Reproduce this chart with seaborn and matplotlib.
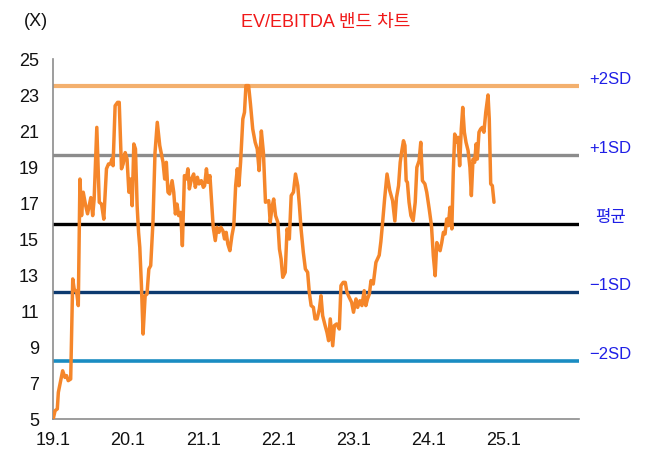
"""EV/EBITDA band chart."""

import matplotlib

matplotlib.use("Agg")

import matplotlib.pyplot as plt
import pandas as pd
import seaborn as sns

DATES = [
    "2019-01-02", "2019-01-11", "2019-01-22", "2019-01-27", "2019-02-09", "2019-02-17",
    "2019-02-28", "2019-03-08", "2019-03-16", "2019-03-28", "2019-04-07", "2019-04-14",
    "2019-04-26", "2019-05-04", "2019-05-12", "2019-05-20", "2019-05-28", "2019-06-09",
    "2019-06-18", "2019-06-26", "2019-07-04", "2019-07-13", "2019-07-20", "2019-08-02",
    "2019-08-14", "2019-08-25", "2019-09-05", "2019-09-18", "2019-09-28", "2019-10-08",
    "2019-10-14", "2019-10-20", "2019-10-30", "2019-11-11", "2019-11-19", "2019-11-30",
    "2019-12-08", "2019-12-18", "2019-12-27", "2020-01-05", "2020-01-13", "2020-01-21",
    "2020-01-29", "2020-02-06", "2020-02-14", "2020-02-21", "2020-02-27", "2020-03-06",
    "2020-03-14", "2020-03-24", "2020-04-02", "2020-04-11", "2020-04-20", "2020-05-01",
    "2020-05-11", "2020-05-22", "2020-06-03", "2020-06-11", "2020-06-19", "2020-06-27",
    "2020-07-05", "2020-07-13", "2020-07-21", "2020-08-02", "2020-08-10", "2020-08-18",
    "2020-08-26", "2020-09-03", "2020-09-13", "2020-09-21", "2020-10-01", "2020-10-10",
    "2020-10-18", "2020-10-25", "2020-11-04", "2020-11-15", "2020-11-23", "2020-12-03",
    "2020-12-11", "2020-12-22", "2021-01-01", "2021-01-07", "2021-01-16", "2021-01-23",
    "2021-02-02", "2021-02-12", "2021-02-18", "2021-02-28", "2021-03-08", "2021-03-18",
    "2021-03-27", "2021-04-06", "2021-04-14", "2021-04-22", "2021-04-30", "2021-05-10",
    "2021-05-20", "2021-05-29", "2021-06-07", "2021-06-15", "2021-06-23", "2021-07-01",
    "2021-07-12", "2021-07-20", "2021-07-27", "2021-08-09", "2021-08-18", "2021-08-29",
    "2021-09-10", "2021-09-20", "2021-09-29", "2021-10-10", "2021-10-20", "2021-10-30",
    "2021-11-15", "2021-11-22", "2021-12-02", "2021-12-09", "2021-12-18", "2021-12-29",
    "2022-01-06", "2022-01-14", "2022-01-22", "2022-02-03", "2022-02-12", "2022-02-23",
    "2022-03-04", "2022-03-15", "2022-03-25", "2022-04-05", "2022-04-13", "2022-04-21",
    "2022-05-02", "2022-05-12", "2022-05-23", "2022-05-31", "2022-06-09", "2022-06-20",
    "2022-06-28", "2022-07-08", "2022-07-19", "2022-07-27", "2022-08-04", "2022-08-16",
    "2022-08-25", "2022-09-02", "2022-09-10", "2022-09-22", "2022-09-30", "2022-10-11",
    "2022-10-24", "2022-11-01", "2022-11-12", "2022-11-22", "2022-11-30", "2022-12-11",
    "2022-12-23", "2023-01-01", "2023-01-13", "2023-01-21", "2023-02-01", "2023-02-11",
    "2023-02-22", "2023-03-02", "2023-03-10", "2023-03-19", "2023-03-27", "2023-04-07",
    "2023-04-20", "2023-04-28", "2023-05-06", "2023-05-14", "2023-05-22", "2023-06-01",
    "2023-06-13", "2023-06-26", "2023-07-10", "2023-07-21", "2023-07-29", "2023-08-08",
    "2023-08-16", "2023-08-24", "2023-09-01", "2023-09-08", "2023-09-14", "2023-09-20",
    "2023-09-28", "2023-10-07", "2023-10-18", "2023-10-28", "2023-11-05", "2023-11-16",
    "2023-11-24", "2023-12-02", "2023-12-14", "2023-12-23", "2024-01-04", "2024-01-15",
    "2024-01-24", "2024-02-02", "2024-02-10", "2024-02-18", "2024-02-26", "2024-03-05",
    "2024-03-13", "2024-03-21", "2024-03-29", "2024-04-06", "2024-04-14", "2024-04-23",
    "2024-04-30", "2024-05-07", "2024-05-15", "2024-05-23", "2024-05-31", "2024-06-08",
    "2024-06-15", "2024-06-23", "2024-07-01", "2024-07-11", "2024-07-20", "2024-07-27",
    "2024-08-04", "2024-08-12", "2024-08-19", "2024-08-25", "2024-09-02", "2024-09-10",
    "2024-09-18", "2024-09-26", "2024-10-05", "2024-10-16", "2024-10-22", "2024-10-29",
    "2024-11-06", "2024-11-14",
]

EV_EBITDA = [
    5.00, 5.46, 5.56, 6.48, 7.22, 7.68, 7.31, 7.41, 7.13, 7.22, 12.78, 12.22,
    12.04, 11.30, 18.33, 16.30, 17.60, 16.85, 16.40, 16.85, 17.30, 16.30, 17.20, 21.20,
    17.04, 16.94, 16.10, 18.90, 19.17, 19.17, 19.44, 19.07, 22.40, 22.59, 22.59, 18.90,
    19.17, 19.80, 19.44, 17.60, 18.33, 16.85, 20.28, 20.00, 16.85, 15.37, 14.54, 12.41,
    9.72, 11.85, 11.94, 13.33, 13.52, 15.93, 19.80, 21.48, 20.19, 19.72, 19.26, 18.33,
    19.26, 17.60, 17.50, 18.24, 17.60, 16.39, 16.94, 16.30, 16.48, 14.63, 18.52, 18.33,
    18.90, 17.78, 18.33, 18.61, 17.87, 18.43, 18.06, 18.24, 17.87, 17.96, 18.90, 18.15,
    18.52, 16.67, 15.65, 14.91, 15.65, 15.37, 15.65, 15.46, 15.00, 15.37, 14.72, 14.35,
    15.19, 15.74, 17.96, 18.90, 17.96, 19.26, 21.67, 22.04, 23.52, 23.52, 22.50, 21.11,
    20.37, 20.00, 18.80, 21.00, 19.80, 17.04, 17.13, 15.93, 16.85, 17.22, 16.30, 15.93,
    14.44, 13.89, 12.87, 13.15, 15.56, 15.00, 17.41, 17.60, 18.61, 17.96, 16.85, 15.56,
    14.26, 13.33, 13.15, 12.04, 11.30, 11.20, 10.56, 10.56, 11.11, 11.85, 10.74, 10.19,
    9.81, 9.35, 10.56, 9.07, 10.19, 10.28, 10.00, 12.41, 12.59, 12.59, 12.04, 11.76,
    11.48, 10.93, 11.67, 11.20, 11.57, 11.30, 12.13, 11.30, 11.67, 11.94, 12.69, 12.50,
    13.70, 13.90, 14.10, 14.85, 15.85, 17.20, 18.61, 17.70, 17.13, 16.00, 17.30, 17.96,
    19.26, 19.91, 20.46, 20.19, 18.24, 18.15, 17.04, 16.30, 16.02, 17.04, 18.98, 19.35,
    20.37, 18.24, 18.06, 17.60, 16.67, 15.74, 14.07, 12.96, 14.80, 14.54, 14.35, 14.80,
    15.37, 15.28, 16.11, 15.74, 16.76, 15.56, 18.70, 20.83, 20.37, 20.65, 19.07, 21.11,
    22.31, 20.93, 20.37, 19.91, 18.98, 17.41, 19.44, 19.26, 20.28, 19.44, 20.93, 21.11,
    21.20, 20.93, 22.04, 23.00, 21.67, 18.06, 17.96, 17.04,
]

BAND_LABELS = ["+2SD", "+1SD", "평균", "\u22121SD", "\u22122SD"]
BAND_VALUES = [23.48, 19.67, 15.83, 12.06, 8.22]
BAND_COLORS = ["#F3B06E", "#8C8C8C", "#000000", "#0C3A70", "#1A8CC2"]
BAND_WIDTHS = [3.0, 2.4, 2.4, 2.4, 2.6]

TICK_DATES = ["2019-01-01", "2020-01-01", "2021-01-01", "2022-01-01",
              "2023-01-01", "2024-01-01", "2025-01-01"]
TICK_LABELS = ["19.1", "20.1", "21.1", "22.1", "23.1", "24.1", "25.1"]
Y_TICKS = [5, 7, 9, 11, 13, 15, 17, 19, 21, 23, 25]

sns.set_style("white")
plt.rcParams["font.family"] = ["Liberation Sans", "Noto Sans CJK KR"]

df = pd.DataFrame({"date": pd.to_datetime(DATES), "value": EV_EBITDA})

fig = plt.figure(figsize=(6.51, 4.52), dpi=100)
ax = fig.add_axes([0.0814, 0.0708, 0.8076, 0.7965])

for value, color, width in zip(BAND_VALUES, BAND_COLORS, BAND_WIDTHS):
    ax.axhline(value, color=color, lw=width, zorder=1)

sns.lineplot(data=df, x="date", y="value", ax=ax, color="#F5862A", lw=2.5, zorder=3)

for label, value in zip(BAND_LABELS, BAND_VALUES):
    ax.annotate(label, xy=(1.0, value), xycoords=ax.get_yaxis_transform(),
                xytext=(23, 5.5), textcoords="offset points",
                ha="center", va="center", fontsize=12, color="#1F1FE6")

ax.set_xlim(pd.Timestamp("2019-01-01"), pd.Timestamp("2025-12-31"))
ax.set_ylim(5, 25)
ax.set_yticks(Y_TICKS)
ax.set_xticks(pd.to_datetime(TICK_DATES))
ax.set_xticklabels(TICK_LABELS)
ax.set_xlabel("")
ax.set_ylabel("")

for side in ["top", "right"]:
    ax.spines[side].set_visible(False)
for side in ["left", "bottom"]:
    ax.spines[side].set_color("#8C8C8C")
    ax.spines[side].set_linewidth(1.2)

ax.tick_params(axis="both", direction="in", length=4, width=1.2, color="#8C8C8C",
               labelsize=13, labelcolor="#111111")
ax.tick_params(axis="y", pad=10)
ax.tick_params(axis="x", pad=9)

fig.text(0.5, 1 - 22 / 452, "EV/EBITDA 밴드 차트", ha="center", va="center",
         fontsize=13, color="#F01818")
fig.text(36 / 651, 1 - 22 / 452, "(X)", ha="center", va="center", fontsize=13,
         color="#111111")

fig.savefig("out.png", dpi=100)
